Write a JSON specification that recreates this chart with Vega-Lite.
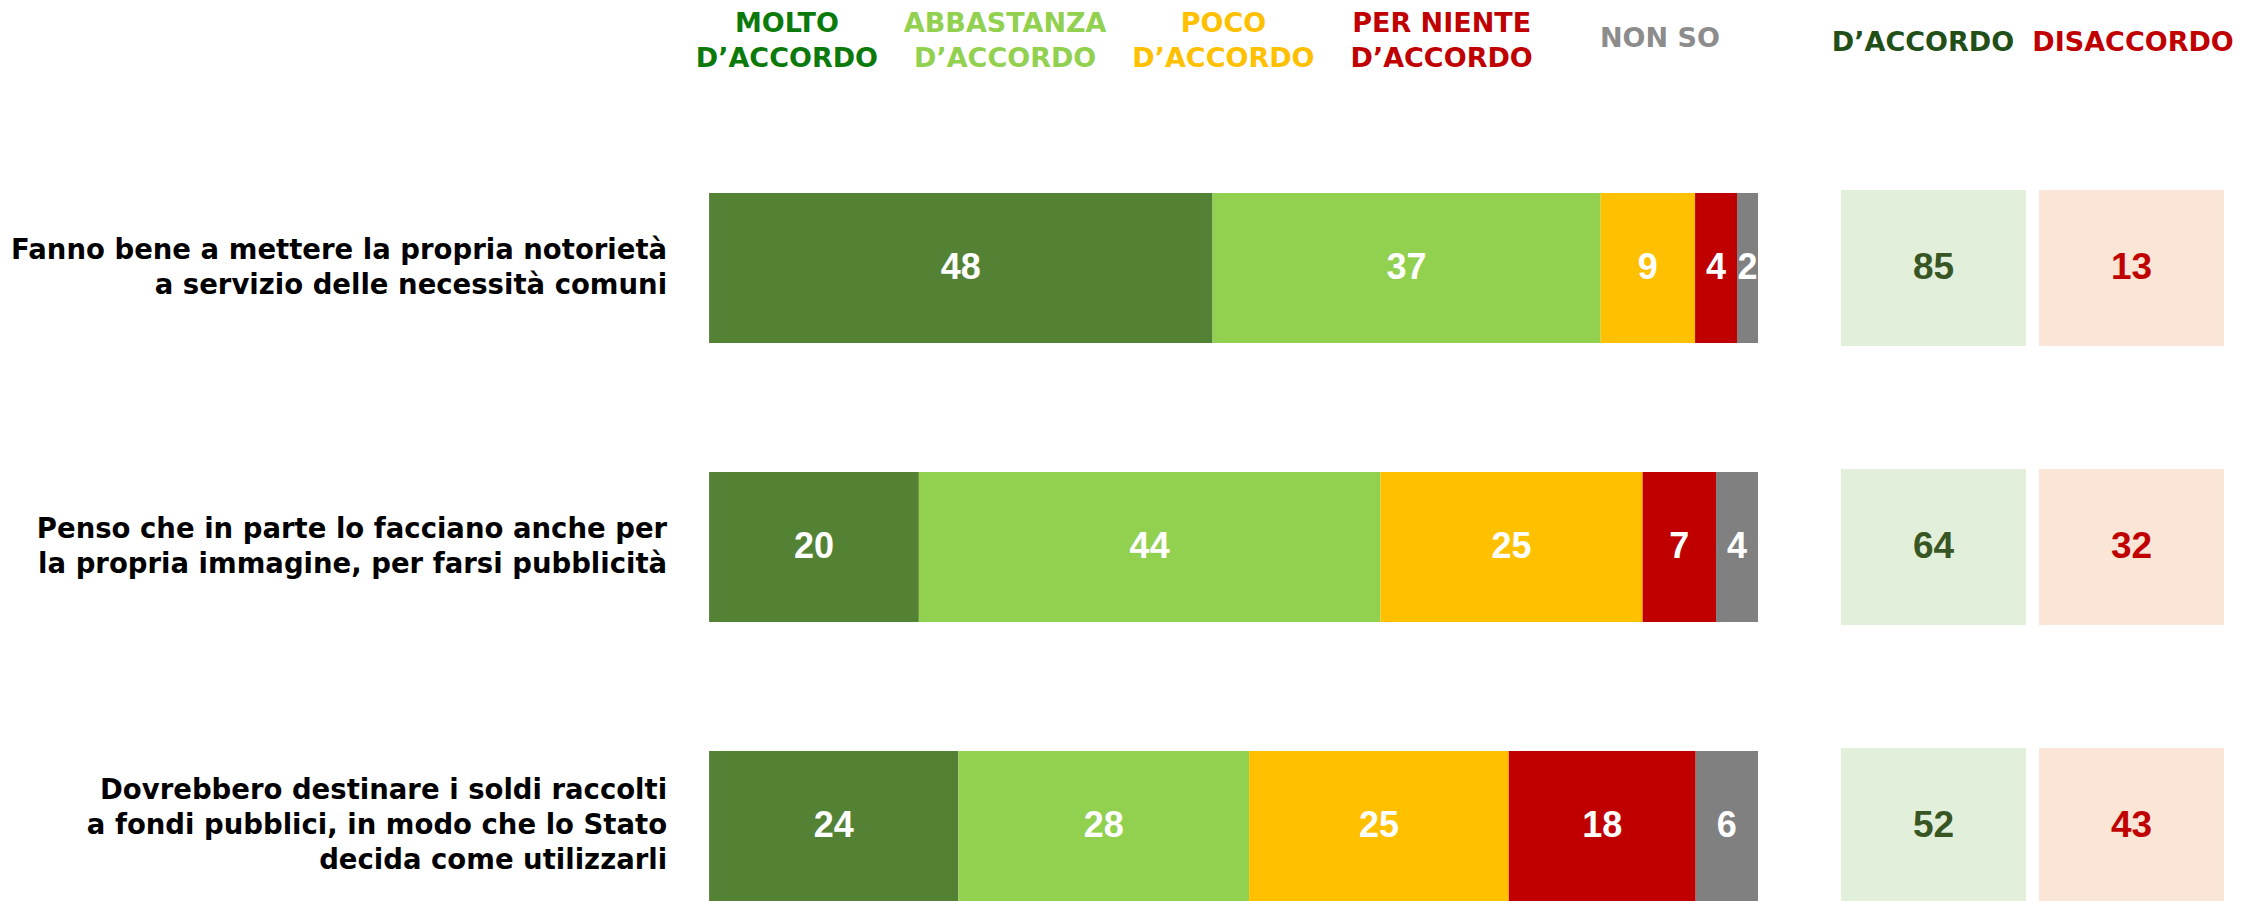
{
  "$schema": "https://vega.github.io/schema/vega-lite/v6.json",
  "padding": 0,
  "spacing": 0,
  "columns": 2,
  "bounds": "flush",
  "background": "white",
  "config": {"view": {"stroke": null}, "concat": {"spacing": 0}},
  "resolve": {"scale": {"color": "independent", "x": "independent", "y": "independent"}},
  "datasets": {
    "bars": [
      {"q": "Q1", "cat": "Molto d'accordo", "k": 1, "v": 48},
      {"q": "Q1", "cat": "Abbastanza d'accordo", "k": 2, "v": 37},
      {"q": "Q1", "cat": "Poco d'accordo", "k": 3, "v": 9},
      {"q": "Q1", "cat": "Per niente d'accordo", "k": 4, "v": 4},
      {"q": "Q1", "cat": "Non so", "k": 5, "v": 2},
      {"q": "Q2", "cat": "Molto d'accordo", "k": 1, "v": 20},
      {"q": "Q2", "cat": "Abbastanza d'accordo", "k": 2, "v": 44},
      {"q": "Q2", "cat": "Poco d'accordo", "k": 3, "v": 25},
      {"q": "Q2", "cat": "Per niente d'accordo", "k": 4, "v": 7},
      {"q": "Q2", "cat": "Non so", "k": 5, "v": 4},
      {"q": "Q3", "cat": "Molto d'accordo", "k": 1, "v": 24},
      {"q": "Q3", "cat": "Abbastanza d'accordo", "k": 2, "v": 28},
      {"q": "Q3", "cat": "Poco d'accordo", "k": 3, "v": 25},
      {"q": "Q3", "cat": "Per niente d'accordo", "k": 4, "v": 18},
      {"q": "Q3", "cat": "Non so", "k": 5, "v": 6}
    ],
    "questions": [
      {"q": "Q1", "lines": ["Fanno bene a mettere la propria notorietà", "a servizio delle necessità comuni"]},
      {"q": "Q2", "lines": ["Penso che in parte lo facciano anche per", "la propria immagine, per farsi pubblicità"]},
      {"q": "Q3", "lines": ["Dovrebbero destinare i soldi raccolti", "a fondi pubblici, in modo che lo Stato", "decida come utilizzarli"]}
    ],
    "boxes": [
      {"q": "Q1", "side": "D’ACCORDO", "v": 85},
      {"q": "Q1", "side": "DISACCORDO", "v": 13},
      {"q": "Q2", "side": "D’ACCORDO", "v": 64},
      {"q": "Q2", "side": "DISACCORDO", "v": 32},
      {"q": "Q3", "side": "D’ACCORDO", "v": 52},
      {"q": "Q3", "side": "DISACCORDO", "v": 43}
    ],
    "headers": [
      {"h": "Molto d'accordo", "lines": ["MOLTO", "D’ACCORDO"]},
      {"h": "Abbastanza d'accordo", "lines": ["ABBASTANZA", "D’ACCORDO"]},
      {"h": "Poco d'accordo", "lines": ["POCO", "D’ACCORDO"]},
      {"h": "Per niente d'accordo", "lines": ["PER NIENTE", "D’ACCORDO"]},
      {"h": "Non so", "lines": ["NON SO"]}
    ],
    "sideheaders": [
      {"side": "D’ACCORDO"},
      {"side": "DISACCORDO"}
    ]
  },
  "concat": [
    {
      "width": 1833,
      "height": 82,
      "data": {"name": "headers"},
      "encoding": {
        "x": {"field": "h", "type": "nominal", "axis": null, "scale": {"type": "point", "domain": [" ", "  ", "   ", "Molto d'accordo", "Abbastanza d'accordo", "Poco d'accordo", "Per niente d'accordo", "Non so"], "padding": 0.6995, "align": 0.433}},
        "text": {"field": "lines"},
        "color": {"field": "h", "type": "nominal", "legend": null, "scale": {"domain": ["Molto d'accordo", "Abbastanza d'accordo", "Poco d'accordo", "Per niente d'accordo", "Non so"], "range": ["#0b7a0b", "#92d050", "#ffc000", "#c00000", "#8c8c8c"]}}
      },
      "layer": [
        {
          "transform": [{"filter": "length(datum.lines) == 2"}],
          "mark": {"type": "text", "font": "DejaVu Sans", "fontWeight": "bold", "fontSize": 27, "lineHeight": 35, "baseline": "middle", "align": "center", "dy": -17.5}
        },
        {
          "transform": [{"filter": "length(datum.lines) == 1"}],
          "mark": {"type": "text", "font": "DejaVu Sans", "fontWeight": "bold", "fontSize": 27, "baseline": "middle", "align": "center", "dy": -2}
        }
      ]
    },
    {
      "width": 426,
      "height": 82,
      "data": {"name": "sideheaders"},
      "mark": {"type": "text", "font": "DejaVu Sans", "fontWeight": "bold", "fontSize": 27, "baseline": "middle", "align": "center", "dy": 2},
      "encoding": {
        "x": {"field": "side", "type": "nominal", "axis": null, "scale": {"type": "point", "domain": ["D’ACCORDO", "DISACCORDO"], "padding": 0.514, "align": 0.4167}},
        "text": {"field": "side"},
        "color": {"condition": {"test": "datum.side === 'DISACCORDO'", "value": "#c00000"}, "value": "#224f17"}
      }
    },
    {
      "width": 1833,
      "height": 819,
      "layer": [
        {
          "data": {"name": "bars"},
          "mark": {"type": "bar"},
          "encoding": {
            "y": {"field": "q", "type": "nominal", "axis": null, "scale": {"domain": ["Q1", "Q2", "Q3"], "paddingInner": 0.4624, "paddingOuter": 0.199, "align": 1}},
            "x": {"field": "v", "type": "quantitative", "stack": "normalize", "axis": null, "scale": {"domain": [-0.676, 1.0715], "nice": false, "zero": false}},
            "color": {"field": "cat", "type": "nominal", "legend": null, "scale": {"domain": ["Molto d'accordo", "Abbastanza d'accordo", "Poco d'accordo", "Per niente d'accordo", "Non so"], "range": ["#548235", "#92d050", "#ffc000", "#c00000", "#808080"]}},
            "order": {"field": "k", "type": "quantitative"}
          }
        },
        {
          "data": {"name": "bars"},
          "mark": {"type": "text", "color": "white", "font": "Liberation Sans", "fontWeight": "bold", "fontSize": 36, "baseline": "middle", "align": "center"},
          "encoding": {
            "y": {"field": "q", "type": "nominal", "axis": null, "scale": {"domain": ["Q1", "Q2", "Q3"], "paddingInner": 0.4624, "paddingOuter": 0.199, "align": 1}},
            "x": {"field": "v", "type": "quantitative", "stack": "normalize", "bandPosition": 0.5, "axis": null, "scale": {"domain": [-0.676, 1.0715], "nice": false, "zero": false}},
            "detail": {"field": "cat", "type": "nominal"},
            "order": {"field": "k", "type": "quantitative"},
            "text": {"field": "v", "type": "quantitative"}
          }
        },
        {
          "data": {"name": "questions"},
          "transform": [{"filter": "length(datum.lines) == 2"}],
          "mark": {"type": "text", "align": "right", "baseline": "middle", "font": "DejaVu Sans", "fontWeight": "bold", "fontSize": 27.5, "lineHeight": 35, "color": "#000000", "dy": -17.5},
          "encoding": {
            "y": {"field": "q", "type": "nominal", "axis": null, "scale": {"domain": ["Q1", "Q2", "Q3"], "paddingInner": 0.4624, "paddingOuter": 0.199, "align": 1}},
            "x": {"datum": -0.04, "type": "quantitative", "axis": null, "scale": {"domain": [-0.676, 1.0715], "nice": false, "zero": false}},
            "text": {"field": "lines"}
          }
        },
        {
          "data": {"name": "questions"},
          "transform": [{"filter": "length(datum.lines) == 3"}],
          "mark": {"type": "text", "align": "right", "baseline": "middle", "font": "DejaVu Sans", "fontWeight": "bold", "fontSize": 27.5, "lineHeight": 35, "color": "#000000", "dy": -35},
          "encoding": {
            "y": {"field": "q", "type": "nominal", "axis": null, "scale": {"domain": ["Q1", "Q2", "Q3"], "paddingInner": 0.4624, "paddingOuter": 0.199, "align": 1}},
            "x": {"datum": -0.04, "type": "quantitative", "axis": null, "scale": {"domain": [-0.676, 1.0715], "nice": false, "zero": false}},
            "text": {"field": "lines"}
          }
        }
      ]
    },
    {
      "width": 426,
      "height": 819,
      "data": {"name": "boxes"},
      "encoding": {
        "x": {"field": "side", "type": "nominal", "axis": null, "scale": {"domain": ["D’ACCORDO", "DISACCORDO"], "paddingInner": 0.0657, "paddingOuter": 0.1086, "align": 0.186}},
        "y": {"field": "q", "type": "nominal", "axis": null, "scale": {"domain": ["Q1", "Q2", "Q3"], "paddingInner": 0.4624, "paddingOuter": 0.199, "align": 1}}
      },
      "layer": [
        {
          "mark": {"type": "bar", "height": {"band": 1.04}},
          "encoding": {
            "color": {"condition": {"test": "datum.side === 'DISACCORDO'", "value": "#fbe5d6"}, "value": "#e2efda"}
          }
        },
        {
          "mark": {"type": "text", "font": "Liberation Sans", "fontWeight": "bold", "fontSize": 37, "baseline": "middle", "align": "center"},
          "encoding": {
            "text": {"field": "v", "type": "quantitative"},
            "color": {"condition": {"test": "datum.side === 'DISACCORDO'", "value": "#c00000"}, "value": "#375623"}
          }
        }
      ]
    }
  ]
}
